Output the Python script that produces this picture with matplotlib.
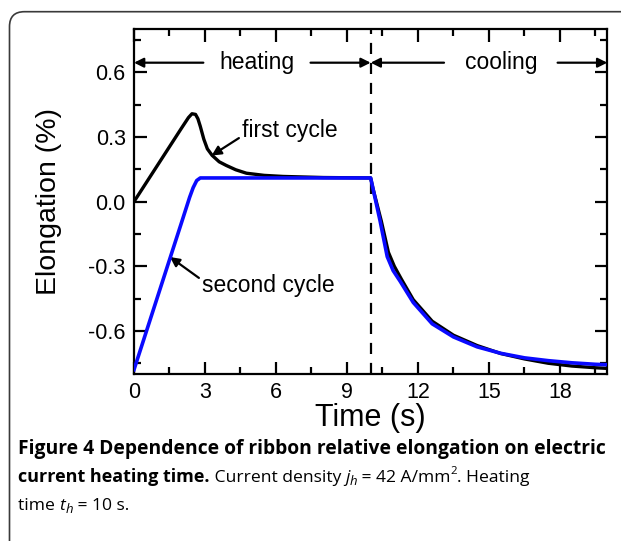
import matplotlib
matplotlib.use('Agg')
import matplotlib.pyplot as plt
from matplotlib.patches import FancyBboxPatch
from matplotlib.ticker import MultipleLocator, FormatStrFormatter

plt.rcParams['font.family'] = ['Liberation Sans', 'DejaVu Sans']
plt.rcParams['axes.unicode_minus'] = False

# ------------------------------------------------------------
# data
# ------------------------------------------------------------
first_t = [0.0, 0.5, 1.0, 1.5, 2.0, 2.3, 2.45, 2.6, 2.7, 2.8, 2.95, 3.1, 3.3,
           3.6, 3.9, 4.3, 4.75, 5.5, 6.3, 8.0, 10.0, 10.1, 10.45, 10.75, 11.0,
           11.3, 11.8, 12.6, 13.5, 14.5, 15.5, 16.5, 17.5, 18.5, 19.5, 20.0]
first_y = [0.0, 0.085, 0.17, 0.255, 0.34, 0.39, 0.408, 0.405, 0.385, 0.35, 0.29,
           0.245, 0.215, 0.185, 0.168, 0.148, 0.132, 0.122, 0.117, 0.112, 0.11,
           0.06, -0.09, -0.235, -0.30, -0.36, -0.455, -0.555, -0.62, -0.668,
           -0.705, -0.73, -0.75, -0.763, -0.771, -0.774]

second_t = [0.0, 0.5, 1.0, 1.5, 2.0, 2.35, 2.5, 2.65, 2.8, 5.0, 8.0, 10.0, 10.4,
            10.7, 10.95, 11.25, 11.8, 12.6, 13.5, 14.5, 15.5, 16.5, 17.5, 18.5,
            19.5, 20.0]
second_y = [-0.78, -0.61, -0.44, -0.27, -0.10, 0.02, 0.065, 0.098, 0.11, 0.11,
            0.11, 0.11, -0.09, -0.255, -0.32, -0.37, -0.468, -0.567, -0.628,
            -0.674, -0.704, -0.725, -0.738, -0.748, -0.755, -0.757]

t_switch = 10.0
arrow_y = 0.645

# ------------------------------------------------------------
# figure
# ------------------------------------------------------------
fig = plt.figure(figsize=(6.21, 5.41), dpi=100)

frame = FancyBboxPatch((9.5 / 621, -0.2), 1.2, (541 - 11.7) / 541 + 0.2,
                       boxstyle="round,pad=0,rounding_size=0.024",
                       mutation_aspect=621 / 541, transform=fig.transFigure,
                       fc='none', ec='#3a3a3a', lw=1.2, zorder=0)
fig.patches.append(frame)

ax = fig.add_axes([134 / 621, (541 - 374) / 541, (607.3 - 134) / 621, (374 - 29.3) / 541])

ax.plot(first_t, first_y, color='black', lw=2.4, zorder=3)
ax.plot(second_t, second_y, color='#0a0aff', lw=2.6, zorder=4)

ax.axvline(t_switch, color='black', lw=1.6, ls=(0, (5, 4)), zorder=2)

# heating / cooling arrows
arr = dict(arrowstyle='-|>', color='black', lw=1.6, mutation_scale=14,
           shrinkA=0, shrinkB=0)
ax.annotate('', xy=(0.0, arrow_y), xytext=(2.93, arrow_y), arrowprops=arr)
ax.annotate('', xy=(t_switch, arrow_y), xytext=(7.46, arrow_y), arrowprops=arr)
ax.annotate('', xy=(t_switch, arrow_y), xytext=(13.1, arrow_y), arrowprops=arr)
ax.annotate('', xy=(20.0, arrow_y), xytext=(17.9, arrow_y), arrowprops=arr)
ax.text(5.2, arrow_y, 'heating', fontsize=16.5, ha='center', va='center')
ax.text(15.5, arrow_y, 'cooling', fontsize=16.5, ha='center', va='center')

# curve labels
lab = dict(arrowstyle='-|>', color='black', lw=1.6, mutation_scale=14,
           shrinkA=0, shrinkB=0)
ax.annotate('first cycle', xy=(3.28, 0.214), xytext=(4.55, 0.33),
            fontsize=16.5, va='center', ha='left',
            arrowprops=dict(lab, relpos=(0.0, 0.25)))
ax.annotate('second cycle', xy=(1.52, -0.257), xytext=(2.86, -0.39),
            fontsize=16.5, va='center', ha='left',
            arrowprops=dict(lab, relpos=(0.0, 0.75)))

ax.set_xlim(0, 20)
ax.set_ylim(-0.8, 0.8)
ax.xaxis.set_major_locator(MultipleLocator(3))
ax.xaxis.set_minor_locator(MultipleLocator(1.5))
ax.yaxis.set_major_locator(MultipleLocator(0.3))
ax.yaxis.set_minor_locator(MultipleLocator(0.15))
ax.yaxis.set_major_formatter(FormatStrFormatter('%.1f'))
ax.tick_params(which='both', direction='in', top=True, right=True, width=1.6,
               labelsize=15.5, pad=6)
ax.tick_params(which='major', length=9)
ax.tick_params(which='minor', length=5)
for s in ax.spines.values():
    s.set_linewidth(1.6)

ax.set_xlabel('Time (s)', fontsize=22)
ax.set_ylabel('Elongation (%)', fontsize=20.5)
ax.xaxis.set_label_coords(0.5, (374 - 403) / (374 - 29.3))
ax.yaxis.set_label_coords((62 - 134) / (607.3 - 134), 0.5)

# ------------------------------------------------------------
# caption
# ------------------------------------------------------------
cap_font = ['Open Sans', 'DejaVu Sans']
cap_size = 12.6
x0 = 18 / 621
fig.text(x0, 1 - 454 / 541,
         'Figure 4 Dependence of ribbon relative elongation on electric',
         fontsize=13.9, fontweight='bold', family=cap_font, va='baseline')

renderer = fig.canvas.get_renderer()


def run(parts, x, y):
    # draw a row of text pieces one after another
    for txt, kw in parts:
        props = dict(fontsize=cap_size, family=cap_font, va='baseline')
        props.update(kw)
        yy = props.pop('dy', 0) + y
        t = fig.text(x, yy, txt, **props)
        bb = t.get_window_extent(renderer)
        x = bb.x1 / fig.bbox.width


y2 = 1 - 482 / 541
run([('current heating time.', dict(fontweight='bold', fontsize=13.0)),
     (' Current density ', {}),
     ('j', dict(style='italic')),
     ('h', dict(style='italic', fontsize=cap_size * 0.75, dy=-0.006)),
     (' = 42 A/mm', {}),
     ('2', dict(fontsize=cap_size * 0.65, dy=0.014)),
     ('. Heating', {})], x0, y2)

y3 = 1 - 510 / 541
run([('time ', {}),
     ('t', dict(style='italic')),
     ('h', dict(style='italic', fontsize=cap_size * 0.75, dy=-0.006)),
     (' = 10 s.', {})], x0, y3)

fig.savefig('out.png', dpi=100)
